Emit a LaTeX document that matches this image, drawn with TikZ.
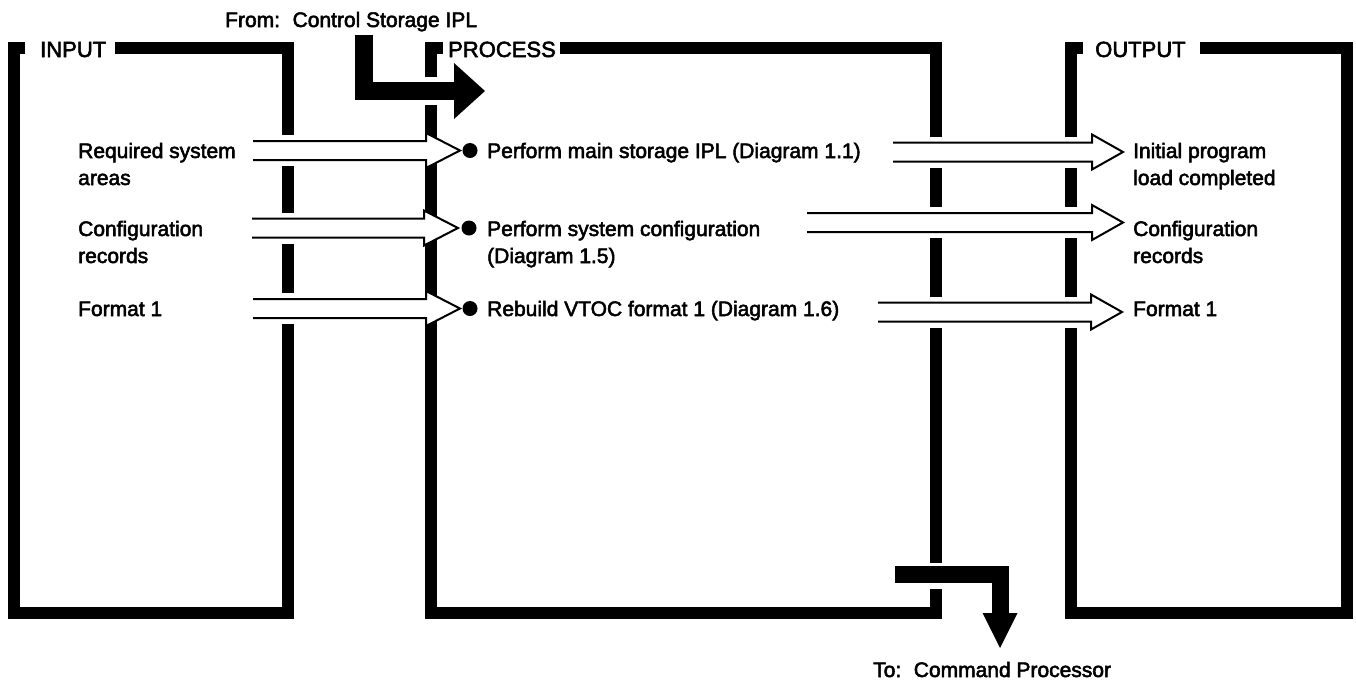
\documentclass[tikz,border=0pt]{standalone}
\usepackage{fontspec}
\setmainfont{Liberation Sans}
\newfontfamily\diafont[FakeBold=2.5]{Liberation Sans}
\usetikzlibrary{calc}
\tikzset{
  boxline/.style={line width=12, line join=miter, line cap=butt},
  lbl/.style={font=\diafont\fontsize{21}{27}\selectfont, inner sep=0pt, anchor=base west, align=left},
  hdr/.style={font=\diafont\fontsize{22}{26}\selectfont, inner sep=0pt, anchor=base west},
  hollow/.style={line width=2, line join=miter},
  halo/.style={fill=white},
  dot/.style={circle, fill=black, inner sep=0pt, minimum size=15},
  bigflow/.style={line join=miter, line cap=butt},
}
\newcommand\hollowarrow[3]{%
  \fill[halo] ($(#1)+(-2,-15.5)$) rectangle ($(#2)+(-#3,15.5)$);
  \fill[white] ($(#1)+(0,-9.5)$) -- ($(#2)+(-#3,-9.5)$) -- ($(#2)+(-#3,-17.5)$) -- (#2)
     -- ($(#2)+(-#3,17.5)$) -- ($(#2)+(-#3,9.5)$) -- ($(#1)+(0,9.5)$) -- cycle;
  \draw[hollow] ($(#1)+(0,-9.5)$) -- ($(#2)+(-#3,-9.5)$) -- ($(#2)+(-#3,-17.5)$) -- (#2)
     -- ($(#2)+(-#3,17.5)$) -- ($(#2)+(-#3,9.5)$) -- ($(#1)+(0,9.5)$);
}
\begin{document}
\begin{tikzpicture}[x=1pt,y=-1pt]
\useasboundingbox[fill=white] (0,0) rectangle (1356,681);

% boxes
\draw[boxline] (25,48) -- (14,48) -- (14,613) -- (288,613) -- (288,48) -- (115,48);
\draw[boxline] (443,48) -- (431,48) -- (431,613) -- (936,613) -- (936,48) -- (560,48);
\draw[boxline] (1083,48) -- (1071,48) -- (1071,613) -- (1347,613) -- (1347,48) -- (1200,48);

% headings
\node[hdr] (hin) at (40,57) {INPUT};
\node[hdr] (hpr) at (448,57) {PROCESS};
\node[hdr] (hout) at (1095,57) {OUTPUT};

% from control storage
\node[lbl] (from) at (225,27) {From:\hspace{0.6em}Control Storage IPL};
\coordinate (ctlA) at (364,35);
\coordinate (ctlB) at (454,91);
\coordinate (ctlTip) at (485,91);
\fill[halo] (400,77) rectangle (455,105);
\draw[bigflow, line width=18] (ctlA) |- (ctlB);
\fill (ctlB) ++(0,-28) -- (ctlTip) -- ($(ctlB)+(0,28)$) -- cycle;

% to command processor
\node[lbl] (to) at (873,677) {To:\hspace{0.6em}Command Processor};
\coordinate (cmdA) at (895,574.5);
\coordinate (cmdB) at (1000,613);
\coordinate (cmdTip) at (1000,648);
\fill[halo] (890,563) rectangle (960,589);
\draw[bigflow, line width=17] (cmdA) -| (cmdB);
\fill ($(cmdB)+(-17.5,0)$) -- (cmdTip) -- ($(cmdB)+(17.5,0)$) -- cycle;

% input flows
\coordinate (i1s) at (253,150.5); \coordinate (i1t) at (460,150.5);
\coordinate (i2s) at (252,228);   \coordinate (i2t) at (458,228);
\coordinate (i3s) at (253,308.5); \coordinate (i3t) at (460,308.5);
\hollowarrow{i1s}{i1t}{34}
\hollowarrow{i2s}{i2t}{34}
\hollowarrow{i3s}{i3t}{34}

\node[dot] (d1) at (470,150.5) {};
\node[dot] (d2) at (469,228) {};
\node[dot] (d3) at (470,308.5) {};

% output flows
\coordinate (o1s) at (893,152);   \coordinate (o1t) at (1123,152);
\coordinate (o2s) at (807,222.5); \coordinate (o2t) at (1123,222.5);
\coordinate (o3s) at (878,312);   \coordinate (o3t) at (1122,312);
\hollowarrow{o1s}{o1t}{31}
\hollowarrow{o2s}{o2t}{31}
\hollowarrow{o3s}{o3t}{31}

% texts (base anchor of a two-line node is the last line's baseline)
\node[lbl] (in1) at (78,185) {Required system\\areas};
\node[lbl] (in2) at (78,263) {Configuration\\records};
\node[lbl] (in3) at (78,316) {Format 1};
\node[lbl] (pr1) at (487,158) {Perform main storage IPL (Diagram 1.1)};
\node[lbl] (pr2) at (487,263) {Perform system configuration\\(Diagram 1.5)};
\node[lbl] (pr3) at (487,316) {Rebuild VTOC format 1 (Diagram 1.6)};
\node[lbl] (out1) at (1133,185) {Initial program\\load completed};
\node[lbl] (out2) at (1133,263) {Configuration\\records};
\node[lbl] (out3) at (1133,316) {Format 1};
\end{tikzpicture}
\end{document}
